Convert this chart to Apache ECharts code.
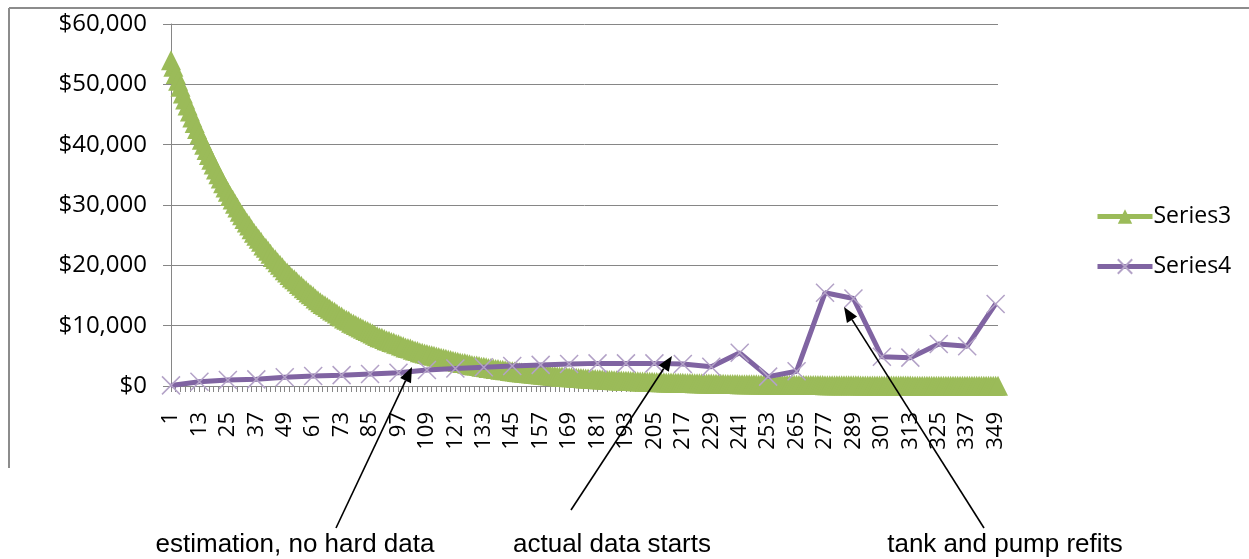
<!DOCTYPE html>
<html>
<head>
<meta charset="utf-8">
<title>Series3 / Series4</title>
<script src="https://cdn.jsdelivr.net/npm/echarts@6/dist/echarts.min.js"></script>
<style>
  html, body { margin: 0; padding: 0; background: #fff; }
  #chart { width: 1249px; height: 559px; }
</style>
</head>
<body>
<div id="chart"></div>
<script>
// x categories 1..350, a label every 12th
const categories = Array.from({ length: 350 }, (_, i) => String(i + 1))

// Series3: estimated decline, one value per category
const series3Values = [
  54000, 52900, 51700, 50600, 49600, 48500, 47500, 46500, 45500, 44500, 43600, 42600,
  41700, 40800, 40000, 39100, 38300, 37500, 36700, 35900, 35100, 34400, 33600, 32900,
  32200, 31500, 30900, 30200, 29600, 28900, 28300, 27700, 27100, 26600, 26000, 25400,
  24900, 24400, 23900, 23300, 22900, 22400, 21900, 21400, 21000, 20500, 20100, 19700,
  19200, 18800, 18400, 18000, 17700, 17300, 16900, 16600, 16200, 15900, 15500, 15200,
  14900, 14500, 14200, 13900, 13600, 13400, 13100, 12800, 12500, 12300, 12000, 11700,
  11500, 11200, 11000, 10800, 10500, 10300, 10100, 9900, 9700, 9500, 9300, 9100,
  8900, 8700, 8500, 8300, 8100, 8000, 7800, 7600, 7500, 7300, 7200, 7000,
  6900, 6700, 6600, 6400, 6300, 6200, 6000, 5900, 5800, 5600, 5500, 5400,
  5300, 5200, 5100, 5000, 4900, 4800, 4700, 4600, 4500, 4400, 4300, 4200,
  4100, 4000, 3900, 3800, 3800, 3700, 3600, 3500, 3400, 3400, 3300, 3200,
  3200, 3100, 3000, 3000, 2900, 2800, 2800, 2700, 2700, 2600, 2600, 2500,
  2440, 2390, 2340, 2290, 2240, 2190, 2150, 2100, 2060, 2010, 1970, 1930,
  1890, 1850, 1810, 1770, 1730, 1690, 1660, 1620, 1590, 1560, 1520, 1490,
  1460, 1430, 1400, 1370, 1340, 1310, 1280, 1250, 1230, 1200, 1180, 1150,
  1130, 1100, 1080, 1060, 1030, 1010, 990, 970, 950, 930, 910, 890,
  870, 850, 830, 820, 800, 780, 760, 750, 730, 720, 700, 690,
  670, 660, 640, 630, 620, 600, 590, 580, 570, 550, 540, 530,
  520, 510, 500, 490, 480, 470, 460, 450, 440, 430, 420, 410,
  400, 390, 380, 380, 370, 360, 350, 340, 340, 330, 320, 320,
  310, 300, 300, 290, 280, 280, 270, 270, 260, 260, 250, 240,
  240, 230, 230, 220, 220, 220, 210, 210, 200, 200, 190, 190,
  190, 180, 180, 170, 170, 170, 160, 160, 160, 150, 150, 150,
  140, 140, 140, 130, 130, 130, 130, 120, 120, 120, 120, 110,
  110, 110, 110, 100, 100, 100, 100, 100, 90, 90, 90, 90,
  90, 80, 80, 80, 80, 80, 80, 70, 70, 70, 70, 70,
  70, 60, 60, 60, 60, 60, 60, 60, 60, 50, 50, 50,
  50, 50, 50, 50, 50, 50, 40, 40, 40, 40, 40, 40,
  40, 40, 40, 40, 40, 40, 30, 30, 30, 30, 30, 30,
  30, 30
]

// Series4: one value every 12 categories
const series4Categories = [1, 13, 25, 37, 49, 61, 73, 85, 97, 109, 121, 133, 145, 157, 169,
  181, 193, 205, 217, 229, 241, 253, 265, 277, 289, 301, 313, 325, 337, 349]
const series4Values = [100, 700, 1000, 1100, 1450, 1650, 1800, 2000, 2200, 2650, 2900, 3100, 3300, 3500, 3650,
  3750, 3750, 3750, 3650, 3200, 5500, 1550, 2450, 15450, 14500, 4850, 4700, 6950, 6600, 13600]

// y axis ticks
const yMin = 0
const yMax = 60000
const yStep = 10000

// notes under the chart: text position and arrow tip (pixels)
const noteTexts = ['estimation, no hard data', 'actual data starts', 'tank and pump refits']
const noteTextPos = [[295, 545], [612, 545], [1005, 545]]
const noteArrowFrom = [[336, 528], [571, 510], [984, 528]]
const noteArrowTo = [[412, 367], [672, 356], [844, 307]]

const GRID = '#868686'
const GREEN = '#9BBB59'
const PURPLE = '#8064A2'
const PURPLE_LIGHT = '#B3A2C7'
const AXIS_FONT = '"Open Sans", "Noto Sans", sans-serif'

const arrow = (from, to) => {
  const dx = to[0] - from[0]
  const dy = to[1] - from[1]
  const len = Math.sqrt(dx * dx + dy * dy)
  const ux = dx / len
  const uy = dy / len
  const headLen = 15
  const headW = 6
  const bx = to[0] - ux * headLen
  const by = to[1] - uy * headLen
  return [
    {
      type: 'line',
      shape: { x1: from[0], y1: from[1], x2: bx, y2: by },
      style: { stroke: '#000', lineWidth: 1.6 },
      z: 100,
    },
    {
      type: 'polygon',
      shape: {
        points: [
          [to[0], to[1]],
          [bx - uy * headW, by + ux * headW],
          [bx + uy * headW, by - ux * headW],
        ],
      },
      style: { fill: '#000' },
      z: 100,
    },
  ]
}

const graphics = [
  // chart frame (top and left edges are all that show)
  { type: 'line', shape: { x1: 9, y1: 8, x2: 1260, y2: 8 }, style: { stroke: '#8c8c8c', lineWidth: 2 } },
  { type: 'line', shape: { x1: 9, y1: 8, x2: 9, y2: 468 }, style: { stroke: '#8c8c8c', lineWidth: 2 } },
]
noteTexts.forEach((t, i) => {
  graphics.push(...arrow(noteArrowFrom[i], noteArrowTo[i]))
  graphics.push({
    type: 'text',
    x: noteTextPos[i][0],
    y: noteTextPos[i][1],
    style: {
      text: t,
      fill: '#000',
      font: '26px "Liberation Sans", Arial, sans-serif',
      align: 'center',
      verticalAlign: 'middle',
    },
    z: 100,
  })
})

const chart = echarts.init(document.getElementById('chart'), null, { renderer: 'canvas' })

chart.setOption({
  animation: false,
  backgroundColor: '#fff',
  grid: { left: 171, right: 251, top: 24, bottom: 173 },
  legend: {
    orient: 'vertical',
    left: 1095,
    top: 205,
    padding: 0,
    itemWidth: 55,
    itemHeight: 18,
    itemGap: 27,
    textStyle: { fontFamily: AXIS_FONT, fontSize: 23, color: '#000', padding: [0, 0, 0, -4] },
    data: [
      { name: 'Series3', lineStyle: { width: 5 } },
      { name: 'Series4', lineStyle: { width: 5 } },
    ],
  },
  xAxis: {
    type: 'category',
    data: categories,
    boundaryGap: false,
    axisLine: { lineStyle: { color: GRID, width: 1 } },
    axisTick: { show: true, interval: 1, length: 6, lineStyle: { color: GRID } },
    axisLabel: {
      interval: 11,
      rotate: 90,
      margin: 26,
      fontFamily: AXIS_FONT,
      fontSize: 22,
      color: '#000',
    },
    splitLine: { show: false },
  },
  yAxis: {
    type: 'value',
    min: yMin,
    max: yMax,
    interval: yStep,
    axisLine: { show: true, lineStyle: { color: GRID, width: 1 } },
    axisTick: { show: true, length: 8, lineStyle: { color: GRID } },
    axisLabel: {
      margin: 24,
      fontFamily: AXIS_FONT,
      fontSize: 24,
      color: '#000',
      formatter: (v) => '$' + v.toLocaleString('en-US'),
    },
    splitLine: { show: true, lineStyle: { color: GRID, width: 1 } },
  },
  series: [
    {
      name: 'Series3',
      type: 'line',
      data: series3Values,
      symbol: 'triangle',
      symbolSize: [20, 20],
      showAllSymbol: true,
      color: GREEN,
      lineStyle: { color: GREEN, width: 6 },
      itemStyle: { color: GREEN, borderColor: GREEN, borderWidth: 0 },
      z: 2,
    },
    {
      name: 'Series4',
      type: 'line',
      data: series4Categories.map((c, i) => [c - 1, series4Values[i]]),
      symbol: 'path://M0,0 L10,10 M10,0 L0,10',
      symbolSize: 18,
      showAllSymbol: true,
      color: PURPLE,
      lineStyle: { color: PURPLE, width: 5 },
      itemStyle: { color: 'rgba(0,0,0,0)', borderColor: PURPLE_LIGHT, borderWidth: 1.5 },
      z: 3,
    },
  ],
  graphic: graphics,
})
</script>
</body>
</html>
